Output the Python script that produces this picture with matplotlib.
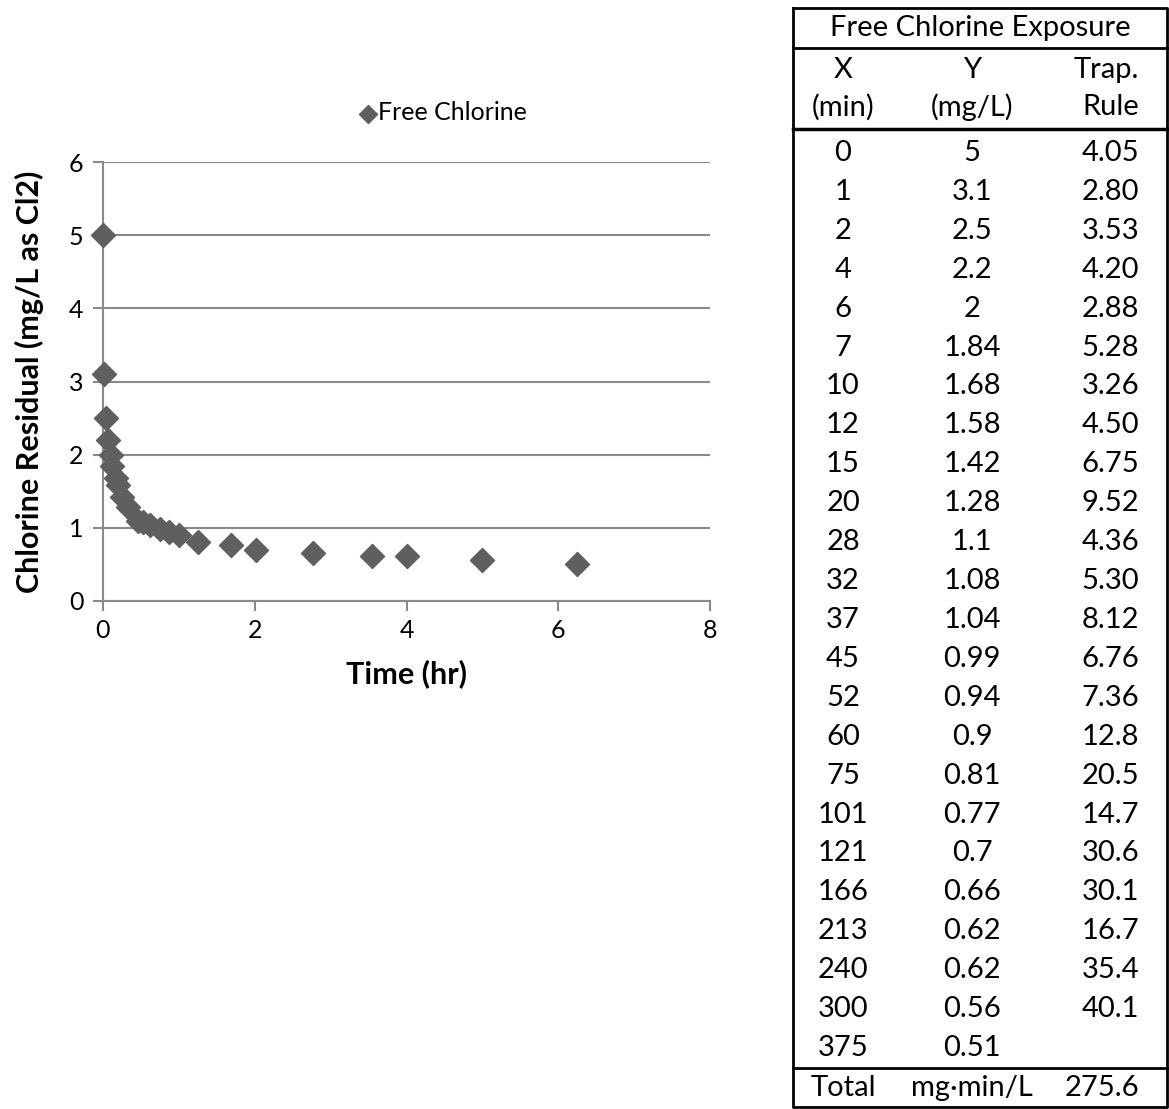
import matplotlib
matplotlib.use('Agg')
import matplotlib.pyplot as plt
from matplotlib.lines import Line2D

# ── Data ──
time_min = [0, 1, 2, 4, 6, 7, 10, 12, 15, 20, 28, 32, 37, 45, 52, 60,
            75, 101, 121, 166, 213, 240, 300, 375]
chlorine = [5, 3.1, 2.5, 2.2, 2, 1.84, 1.68, 1.58, 1.42, 1.28, 1.1, 1.08,
            1.04, 0.99, 0.94, 0.9, 0.81, 0.77, 0.7, 0.66, 0.62, 0.62, 0.56, 0.51]
y_labels = ['5', '3.1', '2.5', '2.2', '2', '1.84', '1.68', '1.58', '1.42', '1.28',
            '1.1', '1.08', '1.04', '0.99', '0.94', '0.9', '0.81', '0.77', '0.7',
            '0.66', '0.62', '0.62', '0.56', '0.51']
trap_rule = ['4.05', '2.80', '3.53', '4.20', '2.88', '5.28', '3.26', '4.50', '6.75',
             '9.52', '4.36', '5.30', '8.12', '6.76', '7.36', '12.8', '20.5', '14.7',
             '30.6', '30.1', '16.7', '35.4', '40.1', '']
total_label = 'Total'
total_units = 'mg\u00b7min/L'
total_value = '275.6'

time_hr = [t / 60 for t in time_min]

W, H = 1169, 1109
FONT = 'Lato'
MARK = '#5f5f5f'
GRID = '#8a8a8a'

def fx(px):
    return px / W

def fy(py):
    return 1 - py / H

fig = plt.figure(figsize=(W / 100, H / 100), dpi=100, facecolor='white')
ax = fig.add_axes([fx(103), fy(601), fx(710) - fx(103), fy(162) - fy(601)])

ax.scatter(time_hr, chlorine, marker='D', s=150, color=MARK, zorder=3,
           label='Free Chlorine', clip_on=False)
ax.set_xlim(0, 8)
ax.set_ylim(0, 6)
ax.set_xticks(range(0, 9, 2))
ax.set_yticks(range(0, 7))
ax.yaxis.grid(True, color=GRID, lw=1.5)
ax.set_axisbelow(True)
for s in ['top', 'right']:
    ax.spines[s].set_visible(False)
for s in ['left', 'bottom']:
    ax.spines[s].set_color(GRID)
    ax.spines[s].set_linewidth(1.5)
ax.tick_params(axis='both', colors=GRID, length=7, width=1.5, labelsize=18,
               labelcolor='black')
ax.tick_params(axis='x', pad=6)
ax.tick_params(axis='y', pad=7)
for lbl in ax.get_xticklabels() + ax.get_yticklabels():
    lbl.set_family(FONT)

ax.set_xlabel('Time (hr)', fontsize=22, fontweight='bold', family=FONT, labelpad=12)
ax.set_ylabel('Chlorine Residual (mg/L as Cl2)', fontsize=22, fontweight='bold',
              family=FONT, labelpad=18)

leg = ax.legend(loc='lower center', bbox_to_anchor=(0.555, 1.035), frameon=False,
                prop={'family': FONT, 'size': 18}, handletextpad=-0.2,
                handlelength=1.2, markerscale=0.75)

# ── Table ──
TL, TR, TT, TB = 793, 1167, 8, 1107
ax_t = fig.add_axes([0, 0, 1, 1], facecolor='none')
ax_t.set_xlim(0, W)
ax_t.set_ylim(H, 0)
ax_t.axis('off')

# outer border
ax_t.add_line(Line2D([TL, TR, TR, TL, TL], [TT, TT, TB, TB, TT], color='black', lw=2))
for yl, lw in [(48, 2), (129, 2.5), (1068, 2)]:
    ax_t.add_line(Line2D([TL, TR], [yl, yl], color='black', lw=lw))

COL_X, COL_Y, COL_T = 843, 972, 1139
tkw = dict(fontsize=21, family=FONT, va='center', color='black')

ax_t.text((TL + TR) / 2, 28, 'Free Chlorine Exposure', ha='center', **tkw)
ax_t.text(COL_X, 70, 'X', ha='center', **tkw)
ax_t.text(COL_Y, 70, 'Y', ha='center', **tkw)
ax_t.text(COL_T, 70, 'Trap.', ha='right', **tkw)
ax_t.text(COL_X, 107, '(min)', ha='center', **tkw)
ax_t.text(COL_Y, 107, '(mg/L)', ha='center', **tkw)
ax_t.text(COL_T, 107, 'Rule', ha='right', **tkw)

row0, step = 153, (1048 - 153) / 23
for i, (t, yv, tr) in enumerate(zip(time_min, y_labels, trap_rule)):
    yy = row0 + i * step
    ax_t.text(COL_X, yy, str(t), ha='center', **tkw)
    ax_t.text(COL_Y, yy, yv, ha='center', **tkw)
    if tr:
        ax_t.text(COL_T, yy, tr, ha='right', **tkw)

ax_t.text(COL_X, 1088, total_label, ha='center', **tkw)
ax_t.text(COL_Y, 1088, total_units, ha='center', **tkw)
ax_t.text(COL_T, 1088, total_value, ha='right', **tkw)

fig.savefig('out.png', dpi=100, facecolor='white')
plt.close()
